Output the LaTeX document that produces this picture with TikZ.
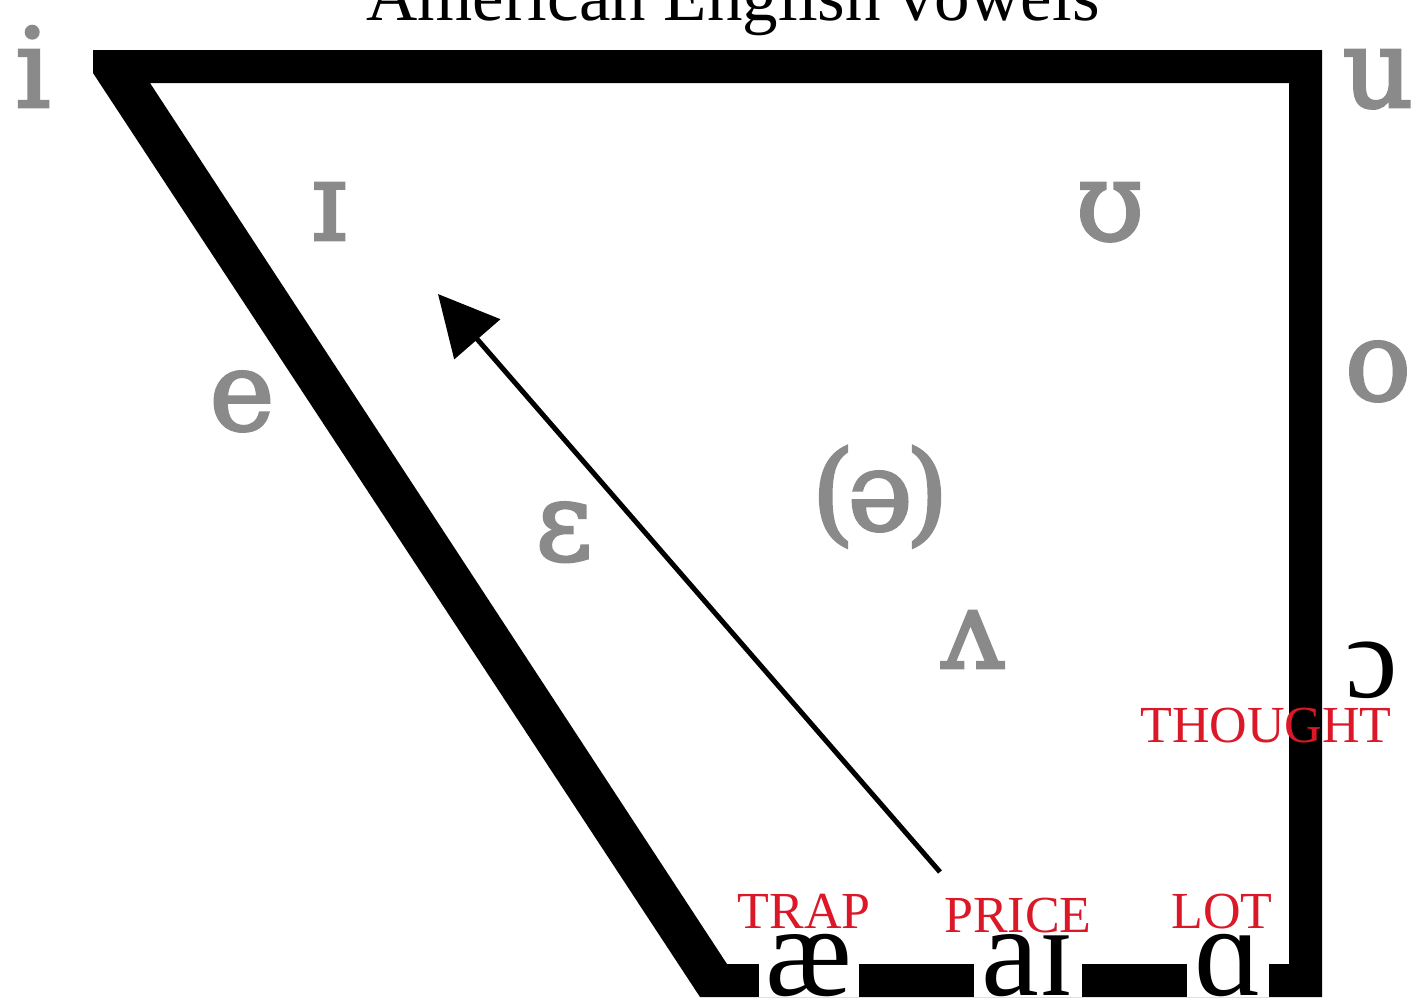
\documentclass[tikz,border=0pt]{standalone}
\usepackage{fontspec}
\setmainfont{Liberation Serif}
\newfontfamily\ipagray[FakeBold=2.5]{DejaVu Serif}
\usetikzlibrary{arrows.meta}
\definecolor{vowelgray}{RGB}{138,138,138}
\definecolor{lexred}{RGB}{218,24,40}
\tikzset{
  >={Triangle[length=60pt,width=60pt]},
  vowel/.style={anchor=base,inner sep=0pt,text=vowelgray,
    font=\ipagray\fontsize{110}{110}\selectfont},
  lowvowel/.style={anchor=base,fill=white,inner xsep=7pt,inner ysep=1pt,
    font=\fontsize{130}{130}\selectfont},
  lexset/.style={anchor=base,inner sep=0pt,text=lexred,
    font=\fontsize{52}{52}\selectfont},
}

\begin{document}
\begin{tikzpicture}[x=1pt,y=-1pt]
  \useasboundingbox (0,0) rectangle (1414,1005);
  \node[anchor=base,inner sep=0pt,font=\fontsize{71}{71}\selectfont] (title) at (733,20) {American English vowels};
  % vowel space
  \fill[even odd rule] (93,50) -- (1322,50) -- (1322,997) -- (700,997) -- (93,73) -- cycle
    (150,83) -- (1289,83) -- (1289,964) -- (727,964) -- cycle;
  \node[vowel] (i) at (33,107) {i};
  \node[vowel] (u) at (1378,107) {u};
  \node[vowel] (I) at (329,240) {ɪ};
  \node[vowel] (U) at (1110,240) {ʊ};
  \node[vowel] (e) at (242,430) {e};
  \node[vowel] (o) at (1378,400) {o};
  \node[vowel] (E) at (564,560) {ɛ};
  \node[vowel] (schwa) at (880,530) {(\kern-7pt ə\kern-7pt)};
  \node[vowel] (V) at (973,668) {ʌ};
  \node[anchor=base,inner sep=0pt,font=\fontsize{118}{118}\selectfont] (O) at (1372,697) {ɔ};
  \node[lowvowel] (ae) at (809,995) {æ};
  \node[lowvowel] (aI) at (1028,995) {aɪ};
  \node[lowvowel] (A) at (1228,995) {ɑ};
  % lexical sets
  \node[lexset] (thought) at (1266,742) {THOUGHT};
  \node[lexset] (trap) at (804,928) {TRAP};
  \node[lexset] (price) at (1018,932) {PRICE};
  \node[lexset] (lot) at (1222,928) {LOT};
  \coordinate (glide start) at (940,872);
  \coordinate (glide end) at (438,294);
  \draw[->,line width=5pt] (glide start) -- (glide end);
\end{tikzpicture}
\end{document}
